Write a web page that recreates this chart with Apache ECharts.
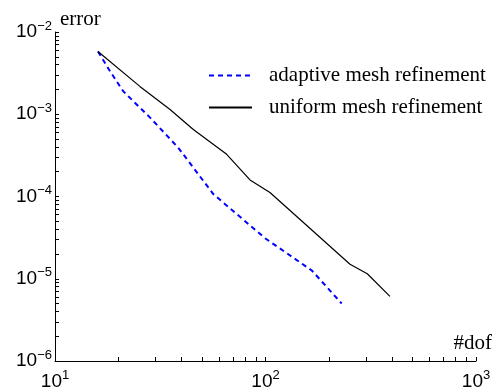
<!DOCTYPE html>
<html>
<head>
<meta charset="utf-8">
<script src="https://cdn.jsdelivr.net/npm/echarts@6/dist/echarts.min.js"></script>
<style>html,body{margin:0;padding:0;background:#fff}#c{width:499px;height:391px}</style>
</head>
<body>
<div id="c"></div>
<script>
// data
var adaptiveDof   = [16, 18.3, 21.1, 28.3, 38.5, 56.5, 99.5, 166, 230];
var adaptiveError = [5.78e-3, 3.31e-3, 1.90e-3, 9.1e-4, 3.92e-4, 1.07e-4, 3.11e-5, 1.26e-5, 5.0e-6];
var uniformDof    = [16, 25.3, 35.2, 45.4, 65.4, 84.4, 105, 252, 304.5, 390];
var uniformError  = [5.78e-3, 2.18e-3, 1.14e-3, 6.53e-4, 3.26e-4, 1.59e-4, 1.12e-4, 1.50e-5, 1.15e-5, 6.1e-6];
var xMajorTicks = [10, 100, 1000];
var yMajorTicks = [1e-6, 1e-5, 1e-4, 1e-3, 1e-2];
var seriesNames = ['adaptive mesh refinement', 'uniform mesh refinement'];

function withMinors(majors) {
  var out = [];
  for (var i = 0; i < majors.length; i++) {
    out.push(majors[i]);
    if (i < majors.length - 1) for (var k = 2; k <= 9; k++) out.push(+(majors[i] * k).toPrecision(6));
  }
  return out;
}
function supLabel(v) {
  var e = Math.round(Math.log10(v));
  return '{b|10}{s|' + (e < 0 ? '\u2212' + (-e) : e) + '}';
}
var rich = {
  b: { fontFamily: 'Liberation Sans', fontSize: 19, color: '#000' },
  s: { fontFamily: 'Liberation Sans', fontSize: 13, color: '#000', verticalAlign: 'bottom', padding: [0, 0, 12, 0] }
};
function pairs(xs, ys) { return xs.map(function (x, i) { return [x, ys[i]]; }); }

var chart = echarts.init(document.getElementById('c'));
chart.setOption({
  animation: false,
  backgroundColor: '#fff',
  grid: { left: 55, right: 23, top: 32, bottom: 28, containLabel: false },
  legend: {
    orient: 'vertical', left: 203, top: 60,
    itemWidth: 43, itemHeight: 14, itemGap: 11,
    itemStyle: { opacity: 0 },
    textStyle: { fontFamily: 'Liberation Serif', fontSize: 21, color: '#000', padding: [0, 0, 0, 12] },
    data: seriesNames
  },
  xAxis: {
    type: 'log', logBase: 10, min: 10, max: 1000,
    name: '#dof', nameLocation: 'end', nameGap: 16,
    nameTextStyle: { fontFamily: 'Liberation Serif', fontSize: 21, color: '#000', align: 'right', verticalAlign: 'bottom', padding: [0, 0, 7, 0] },
    axisLine: { show: true, lineStyle: { color: '#000', width: 1 } },
    axisTick: { show: true, inside: true, length: 4, lineStyle: { color: '#000' }, customValues: withMinors(xMajorTicks) },
    axisLabel: { customValues: xMajorTicks, margin: 8, fontSize: 19, fontFamily: 'Liberation Sans', color: '#000', formatter: supLabel, rich: rich },
    splitLine: { show: false }
  },
  yAxis: {
    type: 'log', logBase: 10, min: 1e-6, max: 1e-2,
    name: 'error', nameLocation: 'end', nameGap: 2,
    nameTextStyle: { fontFamily: 'Liberation Serif', fontSize: 21, color: '#000', align: 'left', verticalAlign: 'bottom', padding: [0, 0, 0, 5] },
    axisLine: { show: true, lineStyle: { color: '#000', width: 1 } },
    axisTick: { show: true, inside: true, length: 4, lineStyle: { color: '#000' }, customValues: withMinors(yMajorTicks) },
    axisLabel: { customValues: yMajorTicks, margin: 3, fontSize: 19, fontFamily: 'Liberation Sans', color: '#000', formatter: supLabel, rich: rich },
    splitLine: { show: false }
  },
  series: [
    {
      name: seriesNames[0], type: 'line', symbol: 'none', showSymbol: false,
      data: pairs(adaptiveDof, adaptiveError),
      lineStyle: { color: '#0000ff', width: 2, type: [5, 4] },
      itemStyle: { color: '#0000ff' }
    },
    {
      name: seriesNames[1], type: 'line', symbol: 'none', showSymbol: false,
      data: pairs(uniformDof, uniformError),
      lineStyle: { color: '#000', width: 1.2 },
      itemStyle: { color: '#000' }
    }
  ]
});
</script>
</body>
</html>
